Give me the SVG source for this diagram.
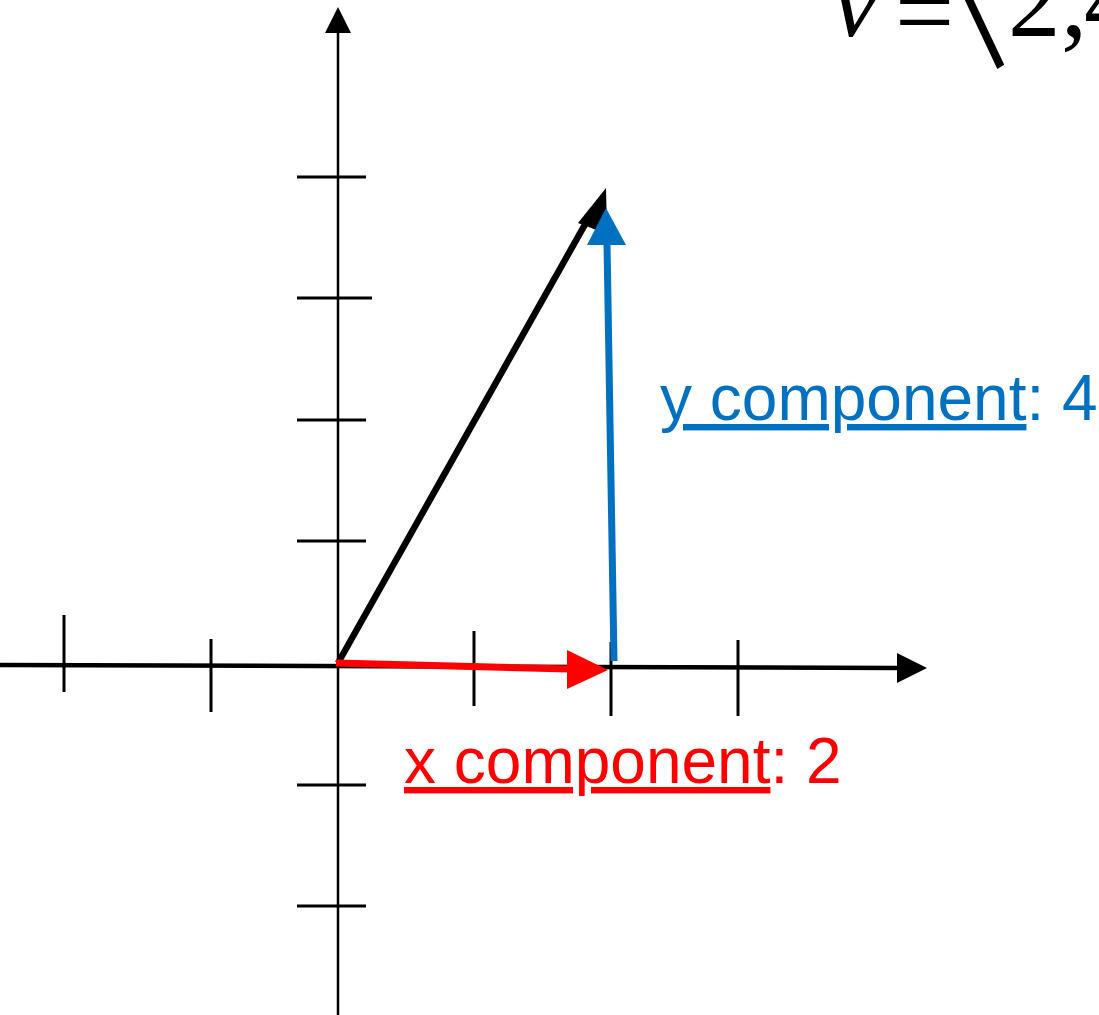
<svg xmlns="http://www.w3.org/2000/svg" width="1099" height="1015" viewBox="0 0 1099 1015">
  <style>
    .axis { stroke: #000; fill: none; }
    .tick { stroke: #000; stroke-width: 3; fill: none; }
    .lbl { font-family: "Liberation Sans", Arial, sans-serif; font-size: 64px; }
    .math { font-family: "Liberation Serif", "Times New Roman", serif; font-size: 105px; fill: #000; }
  </style>
  <rect width="1099" height="1015" fill="#fff"/>

  <g id="axes">
    <line class="axis" x1="0" y1="665" x2="899" y2="668" stroke-width="4.5"/>
    <polygon points="927,668 897,653 897,683" fill="#000"/>
    <line class="axis" x1="338" y1="1015" x2="338" y2="30" stroke-width="2.5"/>
    <polygon points="338,7 325,33 351,33" fill="#000"/>
  </g>

  <g id="ticks">
    <line class="tick" x1="297" y1="177" x2="366" y2="177"/>
    <line class="tick" x1="297" y1="298" x2="372" y2="298"/>
    <line class="tick" x1="297" y1="420" x2="366" y2="420"/>
    <line class="tick" x1="297" y1="541" x2="366" y2="541"/>
    <line class="tick" x1="297" y1="785" x2="366" y2="785"/>
    <line class="tick" x1="297" y1="906" x2="366" y2="906"/>
    <line class="tick" x1="64" y1="615" x2="64" y2="692"/>
    <line class="tick" x1="211" y1="639" x2="211" y2="712"/>
    <line class="tick" x1="474" y1="631" x2="474" y2="706"/>
    <line class="tick" x1="611" y1="642" x2="611" y2="716"/>
    <line class="tick" x1="738" y1="640" x2="738" y2="716"/>
  </g>

  <g id="connectors">
    <g id="vector-v">
      <line x1="338" y1="663" x2="592" y2="212" stroke="#000" stroke-width="6.5"/>
      <polygon points="606,188 578,223 607,234" fill="#000"/>
    </g>
    <g id="vector-x">
      <line x1="336" y1="663" x2="569" y2="669" stroke="#FF0000" stroke-width="7"/>
      <polygon points="608,670 567,650 567,689" fill="#FF0000"/>
    </g>
    <g id="vector-y">
      <line x1="614" y1="661" x2="607" y2="243" stroke="#0070C0" stroke-width="7"/>
      <polygon points="606,208 587,245 626,245" fill="#0070C0"/>
    </g>
  </g>

  <g id="label-y">
    <text class="lbl" x="660" y="420" fill="#0070C0"><tspan text-decoration="underline">y component</tspan>: 4</text>
  </g>
  <g id="label-x">
    <text class="lbl" x="404" y="783" fill="#FF0000"><tspan text-decoration="underline">x component</tspan>: 2</text>
  </g>

  <g id="formula">
    <text class="math" y="36"><tspan x="832" font-style="italic">v</tspan><tspan x="895" y="47">=</tspan><tspan x="1008" y="36">2</tspan><tspan x="1061">,</tspan><tspan x="1084">4</tspan></text>
    <text x="0" y="0" font-family="'Noto Sans CJK JP', sans-serif" font-size="110" transform="translate(900,56) scale(1,1.35)">〈</text>
  </g>
</svg>
